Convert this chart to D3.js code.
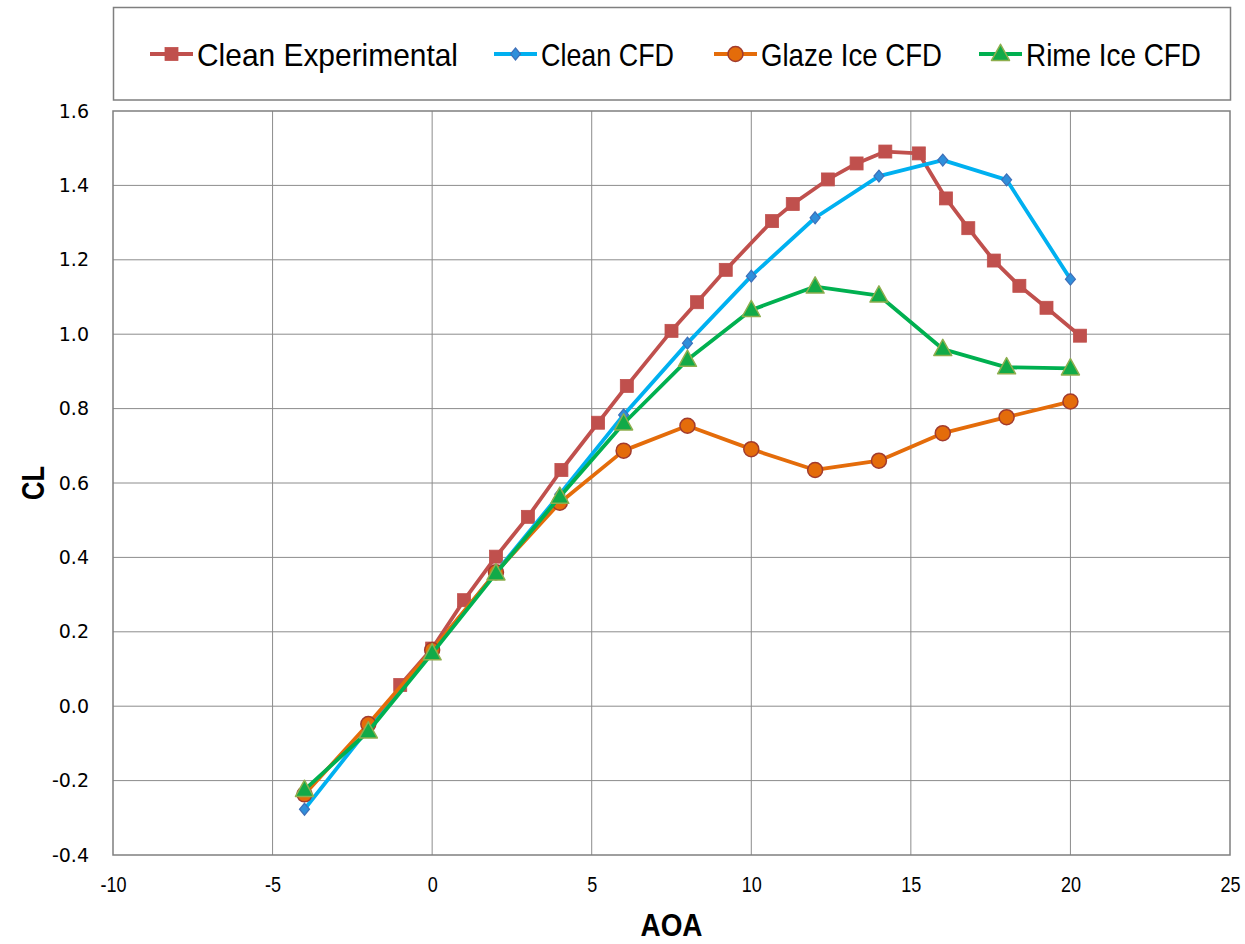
<!DOCTYPE html>
<html>
<head>
<meta charset="utf-8">
<script src="https://cdn.jsdelivr.net/npm/d3@7"></script>
<style>
  html, body { margin: 0; padding: 0; background: #fff; }
  svg { display: block; }
  .sans { font-family: "Liberation Sans", Arial, sans-serif; }
</style>
</head>
<body>
<svg id="chart" width="1245" height="944"></svg>
<script>
// Lift coefficient vs angle of attack
const expAoa = [-1, 0, 1, 2, 3, 4.05, 5.2, 6.1, 7.5, 8.3, 9.2, 10.65, 11.3, 12.4, 13.3, 14.2, 15.25, 16.1, 16.8, 17.6, 18.4, 19.25, 20.3];
const expCl  = [0.057, 0.155, 0.285, 0.402, 0.509, 0.635, 0.762, 0.861, 1.009, 1.086, 1.173, 1.304, 1.350, 1.416, 1.459, 1.491, 1.486, 1.365, 1.285, 1.198, 1.130, 1.071, 0.996];

const cfdAoa = [-4, -2, 0, 2, 4, 6, 8, 10, 12, 14, 16, 18, 20];
const cleanCfdCl = [-0.277, -0.060, 0.148, 0.360, 0.570, 0.783, 0.976, 1.156, 1.313, 1.425, 1.468, 1.415, 1.148];
const glazeCfdCl = [-0.237, -0.048, 0.151, 0.360, 0.547, 0.687, 0.754, 0.691, 0.635, 0.660, 0.734, 0.777, 0.819];
const rimeCfdCl  = [-0.225, -0.068, 0.142, 0.357, 0.563, 0.760, 0.931, 1.065, 1.128, 1.104, 0.960, 0.911, 0.908];

const xTicks = [-10, -5, 0, 5, 10, 15, 20, 25];
const yTicks = [-0.4, -0.2, 0.0, 0.2, 0.4, 0.6, 0.8, 1.0, 1.2, 1.4, 1.6];

const seriesNames = ["Clean Experimental", "Clean CFD", "Glaze Ice CFD", "Rime Ice CFD"];

const svg = d3.select("#chart");
const plot = { left: 113, right: 1230, top: 111, bottom: 855 };

const x = d3.scaleLinear().domain([-10, 25]).range([plot.left, plot.right]);
const y = d3.scaleLinear().domain([-0.4, 1.6]).range([plot.bottom, plot.top]);

const series = [
  { name: seriesNames[0], xs: expAoa, ys: expCl, line: "#C0504D", fill: "#C0504D", stroke: "#C0504D", shape: "square", size: 13 },
  { name: seriesNames[1], xs: cfdAoa, ys: cleanCfdCl, line: "#00B0F0", fill: "#2F8FDB", stroke: "#3F6FB8", shape: "diamond", size: 10 },
  { name: seriesNames[2], xs: cfdAoa, ys: glazeCfdCl, line: "#E46C0A", fill: "#E46C0A", stroke: "#A23B2E", shape: "circle", size: 15 },
  { name: seriesNames[3], xs: cfdAoa, ys: rimeCfdCl, line: "#00B050", fill: "#12AA48", stroke: "#8EAE4E", shape: "triangle", size: 18 }
];

function drawMarker(g, s, cx, cy) {
  const h = s.size / 2;
  if (s.shape === "square") {
    g.append("rect").attr("x", cx - h).attr("y", cy - h).attr("width", s.size).attr("height", s.size)
      .attr("fill", s.fill).attr("stroke", s.stroke).attr("stroke-width", 0.8);
  } else if (s.shape === "diamond") {
    g.append("path").attr("d", `M${cx},${cy - h - 1}L${cx + h},${cy}L${cx},${cy + h + 1}L${cx - h},${cy}Z`)
      .attr("fill", s.fill).attr("stroke", s.stroke).attr("stroke-width", 1.2);
  } else if (s.shape === "circle") {
    g.append("circle").attr("cx", cx).attr("cy", cy).attr("r", h)
      .attr("fill", s.fill).attr("stroke", s.stroke).attr("stroke-width", 1.5);
  } else {
    const th = s.size * 0.9;
    g.append("path").attr("d", `M${cx},${cy - th * 0.6}L${cx + h},${cy + th * 0.4}L${cx - h},${cy + th * 0.4}Z`)
      .attr("fill", s.fill).attr("stroke", s.stroke).attr("stroke-width", 1.5).attr("stroke-linejoin", "round");
  }
}

// plain hyphen for negative tick labels
const hyphen = f => d => f(d).replace("\u2212", "-");

// gridlines
const grid = svg.append("g");
grid.selectAll(".vg").data(xTicks.slice(1, -1)).join("line")
  .attr("x1", d => x(d)).attr("x2", d => x(d)).attr("y1", plot.top).attr("y2", plot.bottom)
  .attr("stroke", "#8c8c8c").attr("stroke-width", 1);
grid.selectAll(".hg").data(yTicks.slice(1, -1)).join("line")
  .attr("x1", plot.left).attr("x2", plot.right).attr("y1", d => y(d)).attr("y2", d => y(d))
  .attr("stroke", "#8c8c8c").attr("stroke-width", 1);

// plot frame
svg.append("rect").attr("x", plot.left).attr("y", plot.top)
  .attr("width", plot.right - plot.left).attr("height", plot.bottom - plot.top)
  .attr("fill", "none").attr("stroke", "#7f7f7f").attr("stroke-width", 1.5);

// axes
const xAxis = d3.axisBottom(x).tickValues(xTicks).tickSize(0).tickPadding(21).tickFormat(hyphen(d3.format("d")));
const gx = svg.append("g").attr("transform", `translate(0,${plot.bottom})`).call(xAxis);
gx.select(".domain").remove();
gx.selectAll("text").attr("class", "sans").attr("font-size", 22).attr("fill", "#000")
  .attr("transform", "scale(0.82,1)");

const yAxis = d3.axisLeft(y).tickValues(yTicks).tickSize(0).tickPadding(24).tickFormat(hyphen(d3.format(".1f")));
const gy = svg.append("g").attr("transform", `translate(${plot.left},0)`).call(yAxis);
gy.select(".domain").remove();
gy.selectAll("text").attr("font-family", "DejaVu Sans, Verdana, sans-serif").attr("font-size", 19).attr("fill", "#000");

// axis titles
svg.append("text").attr("class", "sans").attr("x", (plot.left + plot.right) / 2).attr("y", 936)
  .attr("text-anchor", "middle").attr("font-size", 31).attr("font-weight", "bold")
  .attr("textLength", 62).attr("lengthAdjust", "spacingAndGlyphs").text("AOA");
svg.append("text").attr("class", "sans")
  .attr("transform", `translate(44,${(plot.top + plot.bottom) / 2}) rotate(-90)`)
  .attr("text-anchor", "middle").attr("font-size", 32).attr("font-weight", "bold")
  .attr("textLength", 34).attr("lengthAdjust", "spacingAndGlyphs").text("CL");

// series
const lineGen = d3.line().x(d => x(d[0])).y(d => y(d[1]));
series.forEach(s => {
  const pts = s.xs.map((v, i) => [v, s.ys[i]]);
  const g = svg.append("g");
  g.append("path").attr("d", lineGen(pts)).attr("fill", "none")
    .attr("stroke", s.line).attr("stroke-width", 3.8).attr("stroke-linejoin", "round");
  pts.forEach(p => drawMarker(g, s, x(p[0]), y(p[1])));
});

// legend
svg.append("rect").attr("x", 113.5).attr("y", 7.5).attr("width", 1117).attr("height", 92.5)
  .attr("fill", "#fff").attr("stroke", "#7f7f7f").attr("stroke-width", 1.5);
const legendX = [150, 494, 714, 979];
const legendW = [261, 133, 181, 175];
const lg = svg.append("g");
series.forEach((s, i) => {
  const lx = legendX[i], ly = 54;
  lg.append("line").attr("x1", lx).attr("x2", lx + 43).attr("y1", ly).attr("y2", ly)
    .attr("stroke", s.line).attr("stroke-width", 3.8);
  drawMarker(lg, s, lx + 21.5, ly);
  lg.append("text").attr("class", "sans").attr("x", lx + 47).attr("y", ly + 12)
    .attr("font-size", 32).attr("fill", "#000")
    .attr("textLength", legendW[i]).attr("lengthAdjust", "spacingAndGlyphs").text(s.name);
});
</script>
</body>
</html>
